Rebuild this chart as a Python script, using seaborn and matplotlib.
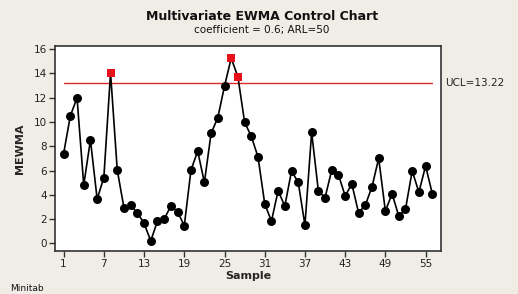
import numpy as np
import pandas as pd
import matplotlib.pyplot as plt
import seaborn as sns

samples = list(range(1, 57))
mewma = [7.40, 10.5, 12.0, 4.81, 8.52, 3.66, 5.42, 14.05, 6.05, 2.94,
         3.13, 2.53, 1.65, 0.22, 1.84, 2.00, 3.10, 2.61, 1.46, 6.05,
         7.60, 5.03, 9.07, 10.36, 12.95, 15.26, 13.72, 9.98, 8.82, 7.12,
         3.27, 1.84, 4.34, 3.08, 5.97, 5.03, 1.51, 9.15, 4.34, 3.77,
         6.05, 5.64, 3.93, 4.89, 2.53, 3.16, 4.65, 7.01, 2.67, 4.10,
         2.25, 2.83, 5.97, 4.23, 6.38, 4.10]
ucl = 13.22
xticks = [1, 7, 13, 19, 25, 31, 37, 43, 49, 55]
yticks = [0, 2, 4, 6, 8, 10, 12, 14, 16]

df = pd.DataFrame({'Sample': samples, 'MEWMA': mewma})
out = df[df['MEWMA'] > ucl]
ok = df[df['MEWMA'] <= ucl]

sns.set_style('white')
bg = '#efede5'
fig = plt.figure(figsize=(5.18, 2.94), dpi=100, facecolor=bg)
ax = fig.add_axes([0.106, 0.147, 0.745, 0.697])
ax.set_facecolor('white')

# UCL line
ax.plot([1, 56], [ucl, ucl], color='#dc2a2a', lw=1.0, zorder=1)

sns.lineplot(data=df, x='Sample', y='MEWMA', color='black', lw=1.2, ax=ax, zorder=2)
sns.scatterplot(data=ok, x='Sample', y='MEWMA', color='black', s=42, marker='o',
                edgecolor='black', linewidth=0, ax=ax, zorder=3)
sns.scatterplot(data=out, x='Sample', y='MEWMA', color='#e8101a', s=32, marker='s',
                edgecolor='#e8101a', linewidth=0, ax=ax, zorder=3)

ax.set_xlim(-0.3, 57.27)
ax.set_ylim(-0.6, 16.27)
ax.set_xticks(xticks)
ax.set_yticks(yticks)
ax.tick_params(axis='both', direction='out', length=4, width=1, colors='#333333',
               labelsize=7.5, labelcolor='#222222', pad=2)
ax.tick_params(bottom=True, left=True)
for s in ax.spines.values():
    s.set_color('#333333')
    s.set_linewidth(1.2)

ax.set_xlabel('Sample', fontsize=8, fontweight='bold', labelpad=1)
ax.set_ylabel('MEWMA', fontsize=8, fontweight='bold', labelpad=6)

fig.text(0.86, (ucl + 0.6) / 16.87 * 0.697 + 0.147, 'UCL=13.22', fontsize=7.5,
         color='#222222', va='center', ha='left')
fig.text(0.506, 0.945, 'Multivariate EWMA Control Chart', fontsize=9,
         fontweight='bold', ha='center', va='center', color='#111111')
fig.text(0.506, 0.897, 'coefficient = 0.6; ARL=50', fontsize=7.5,
         ha='center', va='center', color='#111111')
fig.text(0.02, 0.003, 'Minitab', fontsize=6.5, ha='left', va='bottom', color='#111111')

fig.savefig('out.png', dpi=100, facecolor=bg)
